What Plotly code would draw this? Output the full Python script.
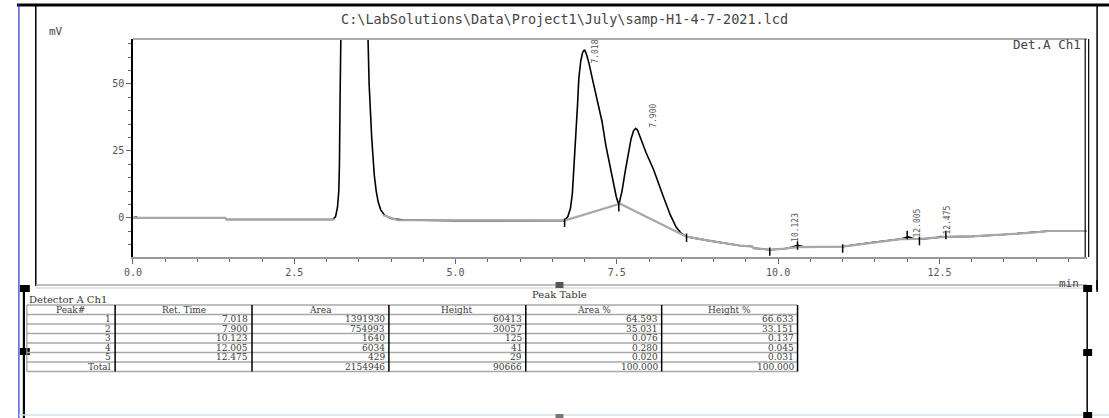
import plotly.graph_objects as go

W, H = 1109, 418

# ---------------- data ----------------
time_min = [0.0, 0.05, 0.08, 1.43, 1.45, 3.10, 3.14, 3.17, 3.19, 3.20, 3.21, 3.22, 3.24, 3.30, 3.40, 3.50,
            3.58, 3.62, 3.64, 3.66, 3.68, 3.70, 3.72, 3.74, 3.77, 3.80, 3.84, 3.90, 4.00, 4.20, 5.00, 6.00,
            6.69, 6.74, 6.78, 6.81, 6.84, 6.87, 6.89, 6.91, 6.94, 6.97, 7.00, 7.03, 7.07, 7.12, 7.19, 7.27,
            7.33, 7.38, 7.43, 7.49, 7.53, 7.58, 7.63, 7.68, 7.72, 7.76, 7.79, 7.82, 7.87, 7.95, 8.07, 8.15,
            8.22, 8.33, 8.42, 8.50, 8.58, 8.90, 9.40, 9.60, 9.62, 9.87, 10.10, 10.22, 10.30, 10.40, 11.00,
            11.45, 11.90, 11.98, 12.02, 12.10, 12.19, 12.45, 12.52, 12.60, 13.00, 13.45, 13.90, 14.20, 14.79]
signal_mv = [0.0, 0.3, 0.0, 0.0, -0.6, -0.6, 0.5, 4, 10, 20, 45, 80, 150, 300, 400, 350,
             200, 100, 70, 50, 38, 30, 23, 16, 10, 6, 3, 1.0, -0.2, -0.8, -1.0, -1.0,
             -1.0, 0.5, 3.5, 9, 20, 31, 42, 52, 58.5, 61.8, 62.8, 61.0, 57.5, 52, 45, 36,
             27, 21, 14.5, 8, 4.8, 10, 17.5, 24.5, 29.5, 32.6, 33.4, 32.8, 29.5, 24.5, 18, 12.5,
             8, 1, -3.5, -5.8, -7.0, -8.4, -10.3, -10.7, -11.3, -11.9, -11.5, -10.9, -10.2, -10.8, -10.7,
             -9.2, -7.9, -7.3, -7.1, -7.8, -8.0, -7.4, -7.0, -7.1, -6.9, -6.3, -5.6, -4.9, -4.9]

# integration baseline / drift (drawn grey)
base_time = [0.0, 1.43, 1.45, 3.13, None, 3.88, 4.10, 6.69, 7.55, 8.58, 8.90, 9.40, 9.60, 9.62, 9.87,
             10.10, 10.30, 11.00, 11.45, 11.90, 12.20, 12.60, 13.00, 13.45, 13.90, 14.20, 14.79]
base_mv = [0.0, 0.0, -0.6, -0.6, None, 1.0, -0.8, -1.0, 5.3, -7.0, -8.4, -10.3, -10.7, -11.3, -11.9,
           -11.5, -10.9, -10.7, -9.2, -7.9, -7.8, -7.1, -6.9, -6.3, -5.6, -4.9, -4.9]

# peak start/end event marks
event_time = [6.69, 7.53, 8.58, 9.87, 10.30, 11.00, 12.00, 12.19, 12.60]
event_mv = [-1.8, 4.0, -7.4, -12.6, -10.3, -11.4, -6.4, -8.6, -6.4]

# peak labels
peak_rt = [7.018, 7.900, 10.123, 12.005, 12.475]
peak_label_mv = [62.0, 38.0, -3.7, -1.9, -0.7]

# peak table
tbl_peak = ["1", "2", "3", "4", "5", "Total"]
tbl_rt = ["7.018", "7.900", "10.123", "12.005", "12.475", ""]
tbl_area = ["1391930", "754993", "1640", "6034", "429", "2154946"]
tbl_height = ["60413", "30057", "125", "41", "29", "90666"]
tbl_area_pct = ["64.593", "35.031", "0.076", "0.280", "0.020", "100.000"]
tbl_height_pct = ["66.633", "33.151", "0.137", "0.045", "0.031", "100.000"]
tbl_headers = ["Peak#", "Ret. Time", "Area", "Height", "Area %", "Height %"]

title_text = "C:\\LabSolutions\\Data\\Project1\\July\\samp-H1-4-7-2021.lcd"

# ---------------- helpers ----------------
def px(x):
    return x / W


def py(y):
    return 1 - y / H


MONO = "DejaVu Sans Mono"
SERIF = "DejaVu Serif"

fig = go.Figure()

fig.add_trace(go.Scatter(x=time_min, y=signal_mv, mode="lines",
                         line=dict(color="black", width=1.6), showlegend=False, hoverinfo="skip"))
fig.add_trace(go.Scatter(x=base_time, y=base_mv, mode="lines", connectgaps=False,
                         line=dict(color="#a8a8a8", width=2.2), showlegend=False, hoverinfo="skip"))
fig.add_trace(go.Scatter(x=event_time, y=event_mv, mode="markers",
                         marker=dict(symbol="line-ns", size=6, line=dict(color="black", width=1.5)),
                         showlegend=False, hoverinfo="skip"))

for rt, ly in zip(peak_rt, peak_label_mv):
    fig.add_annotation(x=rt, y=ly, xref="x", yref="y", text=f"{rt:.3f}", textangle=-90,
                       showarrow=False, xshift=10, font=dict(family=MONO, size=8, color="#555"))

shapes = []


def hline(y, x0, x1, color, width):
    shapes.append(dict(type="line", xref="paper", yref="paper", x0=px(x0), x1=px(x1), y0=py(y), y1=py(y),
                       line=dict(color=color, width=width)))


def vline(x, y0, y1, color, width):
    shapes.append(dict(type="line", xref="paper", yref="paper", x0=px(x), x1=px(x), y0=py(y0), y1=py(y1),
                       line=dict(color=color, width=width)))


def box(x0, y0, x1, y1, color):
    shapes.append(dict(type="rect", xref="paper", yref="paper", x0=px(x0), x1=px(x1), y0=py(y1), y1=py(y0),
                       fillcolor=color, line=dict(width=0)))


# outer frame
hline(5, 8, 1109, "black", 3)
vline(10, 4, 418, "#3030d0", 1.2)
vline(27, 6, 286, "black", 1.5)
vline(15, 285, 418, "black", 2.2)
vline(1097, 6, 290, "black", 1.5)
vline(1087, 288, 418, "black", 1.5)
hline(285, 27, 1087, "#aaa", 1.5)
hline(288, 27, 1087, "#ccc", 1)
hline(415, 10, 1109, "#cfe0f0", 1.5)
# plot box
hline(39, 125, 1087, "#aaa", 2)
vline(1085, 39, 257, "black", 1.2)
vline(1088.5, 39, 257, "black", 1.2)
# handles
box(11, 285, 21, 292, "black")
box(11, 348, 21, 355, "black")
box(1083, 285, 1092, 292, "black")
box(1083, 349, 1092, 356, "black")
box(1083, 412, 1092, 418, "black")
box(551, 282, 559, 288, "#555")
box(551, 414, 559, 418, "#777")
vline(1097, 280, 292, "black", 1.5)

# ---- peak table drawn with lines + text ----
col_edges = [18, 107, 245, 383, 521, 658, 795]
row_edges = [305, 314.5, 324, 333.5, 343, 352.5, 362, 371.5]
for ye in row_edges:
    hline(ye, col_edges[0], col_edges[-1], "#a8a8a8", 1.6)
vline(col_edges[0], row_edges[0], row_edges[-1], "#999", 1.2)
for xc in col_edges[1:]:
    vline(xc, row_edges[0], row_edges[-1], "black", 1.5)

fig.update_layout(shapes=shapes)

tfont = dict(family=SERIF, size=9, color="#3a3a3a")
columns = [tbl_peak, tbl_rt, tbl_area, tbl_height, tbl_area_pct, tbl_height_pct]
for ci, head in enumerate(tbl_headers):
    xc = (col_edges[ci] + col_edges[ci + 1]) / 2
    yc = (row_edges[0] + row_edges[1]) / 2
    fig.add_annotation(xref="paper", yref="paper", x=px(xc), y=py(yc), text=head, showarrow=False,
                       xanchor="center", yanchor="middle", font=tfont)
    for ri, val in enumerate(columns[ci]):
        if not val:
            continue
        yc = (row_edges[ri + 1] + row_edges[ri + 2]) / 2
        fig.add_annotation(xref="paper", yref="paper", x=px(col_edges[ci + 1] - 2), y=py(yc), text=val,
                           showarrow=False, xanchor="right", yanchor="middle", font=tfont)

annos = [
    dict(x=px(560), y=py(19), text=title_text, font=dict(family=MONO, size=13.5, color="#444")),
    dict(x=px(47), y=py(32), text="mV", font=dict(family=MONO, size=11, color="#444")),
    dict(x=px(1083), y=py(45), text="Det.A Ch1", xanchor="right", font=dict(family=MONO, size=12.5, color="#444")),
    dict(x=px(1069), y=py(283), text="min", font=dict(family=MONO, size=11, color="#444")),
    dict(x=px(555), y=py(294), text="Peak Table", font=dict(family=SERIF, size=10, color="#333")),
    dict(x=px(18), y=py(299), text="Detector A Ch1", xanchor="left", font=dict(family=SERIF, size=10, color="#333")),
]
for a in annos:
    a.setdefault("xanchor", "center")
    fig.add_annotation(xref="paper", yref="paper", yanchor="middle", showarrow=False, **a)

fig.update_layout(
    width=W, height=H, margin=dict(l=0, r=0, t=0, b=0),
    paper_bgcolor="white", plot_bgcolor="white",
    xaxis=dict(domain=[px(125), px(1087)], range=[0, 14.79], showline=True, linecolor="#999", linewidth=2,
               ticks="outside", ticklen=5, tickcolor="#666", tickwidth=1.2, dtick=2.5, tick0=0,
               tickformat=".1f", tickfont=dict(family=MONO, size=10, color="#555"),
               showgrid=False, zeroline=False,
               minor=dict(dtick=0.5, ticks="outside", ticklen=3, tickcolor="#666", showgrid=False)),
    yaxis=dict(domain=[py(257), py(39)], range=[-14.6, 66.8], showline=True, linecolor="black", linewidth=1.5,
               ticks="outside", ticklen=5, tickcolor="#666", tickwidth=1.2, tickvals=[0, 25, 50],
               tickfont=dict(family=MONO, size=10, color="#555"), showgrid=False, zeroline=False,
               minor=dict(dtick=5, ticks="outside", ticklen=3, tickcolor="#666", showgrid=False)),
)

fig.write_html("out.html")
